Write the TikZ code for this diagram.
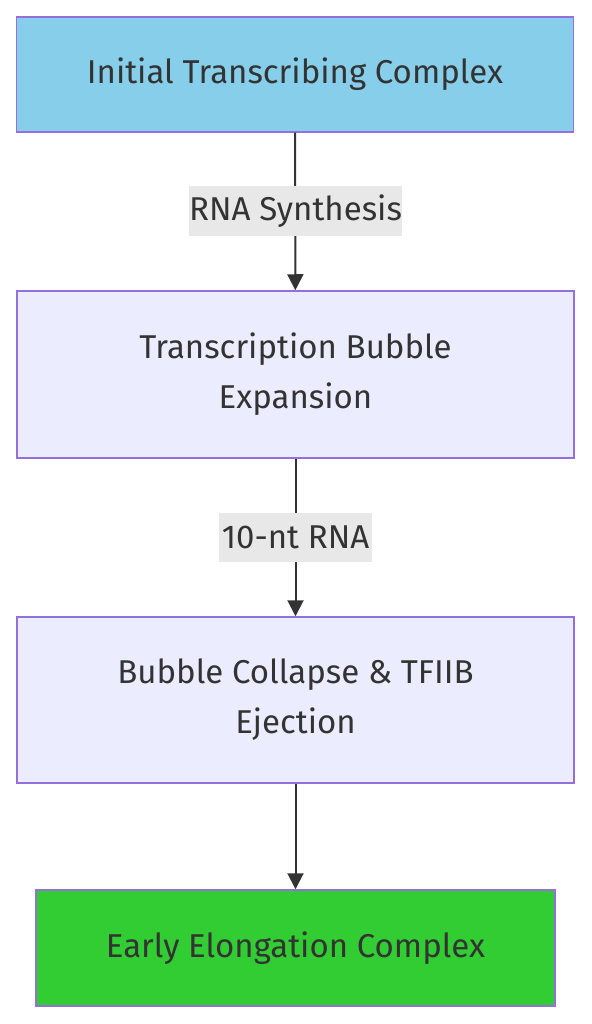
\documentclass[tikz,border=0pt]{standalone}
\usepackage{fontspec}
\setmainfont{Fira Sans}
\usetikzlibrary{arrows.meta}
\definecolor{stepborder}{HTML}{9370DB}
\definecolor{stepfill}{HTML}{ECECFF}
\definecolor{startfill}{HTML}{87CEEB}
\definecolor{endfill}{HTML}{32CD32}
\definecolor{linkcol}{HTML}{333333}
\definecolor{labelfill}{HTML}{E8E8E8}
\begin{document}
\begin{tikzpicture}[x=1pt,y=1pt,
  stepbox/.style={draw=stepborder,line width=1.5pt,fill=stepfill,text=linkcol,
    minimum width=557pt,inner sep=0pt,align=center,font=\fontsize{33}{50}\selectfont},
  linklabel/.style={fill=labelfill,text=linkcol,inner sep=0pt,minimum height=49pt,
    font=\fontsize{33}{40}\selectfont},
  link/.style={draw=linkcol,line width=2pt,-{Triangle[length=16pt,width=16pt]}}]
\useasboundingbox (0,0) rectangle (591,-1024);
% steps:
\node[stepbox,fill=startfill,minimum height=115pt] (itc) at (295,-74.5) {Initial Transcribing Complex};
\node[stepbox,minimum height=167pt] (tbe) at (295.5,-374.5) {Transcription Bubble\\Expansion};
\node[stepbox,minimum height=166pt] (bce) at (295.5,-700) {Bubble Collapse \& TFIIB\\Ejection};
\node[stepbox,fill=endfill,minimum width=519pt,minimum height=116pt] (eec) at (295.5,-948) {Early Elongation Complex};
% links:
\draw[link] (itc) -- (tbe);
\draw[link] (tbe) -- (bce);
\draw[link] (bce) -- (eec);
\node[linklabel,minimum width=211pt] (syn) at (295.5,-211) {RNA Synthesis};
\node[linklabel,minimum width=153pt] (nt) at (295.5,-537.5) {10-nt RNA};
\end{tikzpicture}
\end{document}
